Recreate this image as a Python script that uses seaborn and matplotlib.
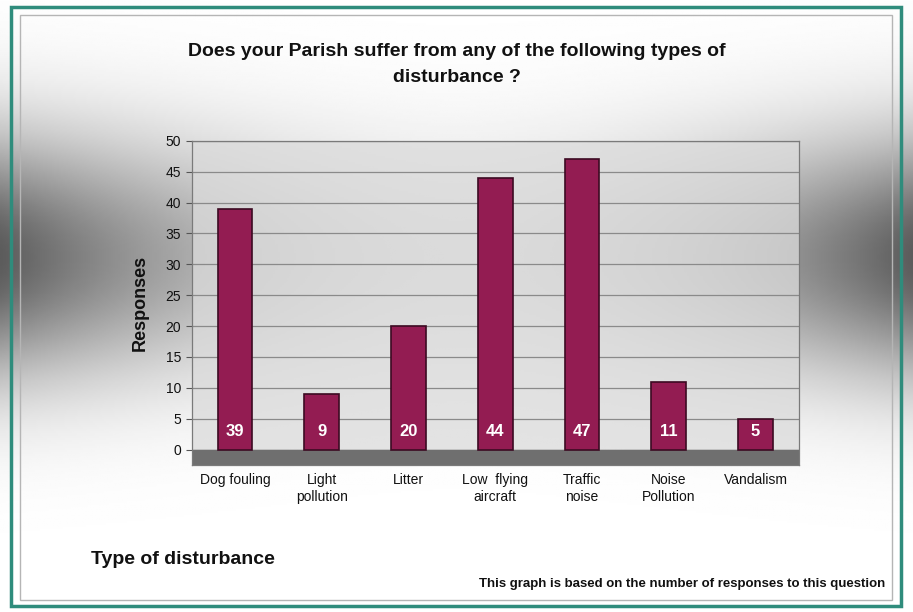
import numpy as np
import pandas as pd
import matplotlib
matplotlib.use("Agg")
import matplotlib.pyplot as plt
import seaborn as sns
from matplotlib.patches import Rectangle

categorias = ["Dog fouling", "Light\npollution", "Litter", "Low  flying\naircraft",
              "Traffic\nnoise", "Noise\nPollution", "Vandalism"]
respuestas = [39, 9, 20, 44, 47, 11, 5]
ticks_y = [0, 5, 10, 15, 20, 25, 30, 35, 40, 45, 50]

df = pd.DataFrame({"tipo": categorias, "respuestas": respuestas})

sns.set_style("white")
plt.rcParams["font.family"] = ["Liberation Sans", "DejaVu Sans"]

fig = plt.figure(figsize=(9.13, 6.12), dpi=100)

# fondo con degradado gris (banda oscura a media altura, mas oscura a los lados)
bg = fig.add_axes([0, 0, 1, 1], zorder=-5)
yy, xx = np.mgrid[0:1:300j, 0:1:400j]
banda = np.exp(-((yy - 0.42) / 0.2) ** 2)
lado = (np.abs(xx - 0.5) * 2) ** 1.8
img = 1 - banda * (0.14 + 0.5 * lado)
bg.imshow(img, cmap="gray", vmin=0, vmax=1, aspect="auto", extent=[0, 1, 1, 0])
bg.set_axis_off()
fig.patches.append(Rectangle((0.012, 0.01), 0.975, 0.978, transform=fig.transFigure,
                             fill=False, edgecolor="#2f8c7c", linewidth=2.5))
fig.patches.append(Rectangle((0.022, 0.02), 0.955, 0.955, transform=fig.transFigure,
                             fill=False, edgecolor="#b5b5b5", linewidth=1))

ax = fig.add_axes([0.21, 0.24, 0.665, 0.53])
ax.set_facecolor((0.86, 0.86, 0.86, 0.75))
sns.barplot(data=df, x="tipo", y="respuestas", color="#931c52", edgecolor="#3c0a22",
            linewidth=1.2, width=0.4, saturation=1, ax=ax, zorder=3)
ax.axhspan(-2.5, 0, color="#6f6f6f", zorder=2)
ax.set_ylim(-2.5, 50)
ax.set_yticks(ticks_y)
ax.yaxis.grid(True, color="#8a8a8a", linewidth=0.9, zorder=1)
ax.set_axisbelow(True)
for s in ax.spines.values():
    s.set_color("#7a7a7a")
    s.set_linewidth(0.9)
ax.tick_params(axis="y", labelsize=10, length=4, color="#555555", left=True, labelcolor="#111111")
ax.tick_params(axis="x", labelsize=10, length=0, pad=6, labelcolor="#111111")
ax.set_xlabel("")
ax.set_ylabel("Responses", fontsize=13, fontweight="bold", labelpad=12, color="#111111")

for i, v in enumerate(respuestas):
    ax.text(i, 3, str(v), ha="center", va="center", color="white",
            fontsize=12, fontweight="bold", zorder=5)

fig.text(0.5, 0.895, "Does your Parish suffer from any of the following types of\ndisturbance ?",
         ha="center", va="center", fontsize=14, fontweight="bold", linespacing=1.7,
         color="#111111")
fig.text(0.1, 0.085, "Type of disturbance", ha="left", va="center",
         fontsize=14, fontweight="bold", color="#111111")
fig.text(0.97, 0.045, "This graph is based on the number of responses to this question",
         ha="right", va="center", fontsize=9.5, fontweight="bold", color="#111111")

fig.savefig("out.png", dpi=100)
